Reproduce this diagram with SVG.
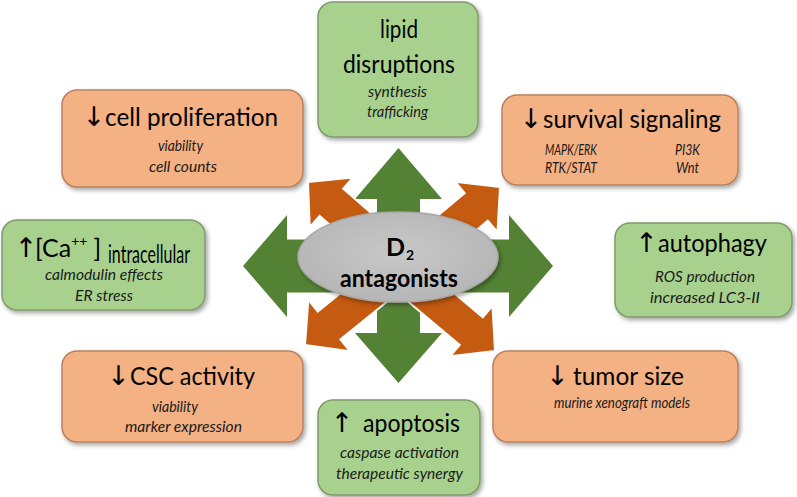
<svg xmlns="http://www.w3.org/2000/svg" width="797" height="497" viewBox="0 0 797 497">
<defs>
<filter id="sh" x="-10%" y="-10%" width="125%" height="130%">
<feDropShadow dx="2" dy="2.5" stdDeviation="2" flood-color="#000" flood-opacity="0.35"/>
</filter>
<radialGradient id="eg" cx="50%" cy="45%" r="60%">
<stop offset="0" stop-color="#c8c8c8"/>
<stop offset="1" stop-color="#b4b4b4"/>
</radialGradient>
</defs>
<style>
.og{fill:#f4b183;stroke:#b88260;stroke-width:1.5}
.gr{fill:#a9d18e;stroke:#7f9b6c;stroke-width:1.5}
.t{font-family:Lato,"Open Sans",sans-serif;font-size:25px;fill:#000}
.s{font-family:Lato,"Open Sans",sans-serif;font-size:14.5px;font-style:italic;fill:#1a1a1a}
.ar{font-family:"DejaVu Sans",sans-serif;font-size:27px;fill:#000;text-anchor:middle}
.b{font-family:Lato,"Open Sans",sans-serif;font-weight:bold;fill:#000}
.ga{fill:#548235}
.oa{fill:#c55a11;stroke:#fff;stroke-width:2;stroke-linejoin:miter}
</style>

<g id="connectors">
<polygon class="ga" points="398.5,148 442,199 420,199 420,333 442,333 398.5,383 355,333 377,333 377,199 355,199"/>
<polygon class="ga" points="243,266 287,215 287,239.5 509,239.5 509,215 553,266 509,317 509,292.5 287,292.5 287,317"/>
<polygon class="oa" transform="translate(308,182) rotate(-139)" points="0,0 -31,-33 -31,-18 -120,-18 -120,18 -31,18 -31,33"/>
<polygon class="oa" transform="translate(500,187) rotate(-40)" points="0,0 -31,-33 -31,-18 -120,-18 -120,18 -31,18 -31,33"/>
<polygon class="oa" transform="translate(305,345) rotate(141)" points="0,0 -31,-33 -31,-18 -120,-18 -120,18 -31,18 -31,33"/>
<polygon class="oa" transform="translate(495,351) rotate(40)" points="0,0 -31,-33 -31,-18 -120,-18 -120,18 -31,18 -31,33"/>
</g>

<g id="center">
<ellipse cx="398" cy="257" rx="100" ry="45" fill="url(#eg)" stroke="#a8a8a8" stroke-width="1.5" filter="url(#sh)"/>
<text class="b" x="386" y="256" font-size="25">D<tspan font-size="14" dx="1" dy="4">2</tspan></text>
<text class="b" x="340" y="287" font-size="24" textLength="118" lengthAdjust="spacingAndGlyphs">antagonists</text>
</g>

<g id="lipid">
<rect class="gr" x="318" y="2" width="160" height="135" rx="15" filter="url(#sh)"/>
<text class="t" x="380" y="38" textLength="38" lengthAdjust="spacingAndGlyphs">lipid</text>
<text class="t" x="343" y="73" textLength="112" lengthAdjust="spacingAndGlyphs">disruptions</text>
<text class="s" x="368" y="97" textLength="59" lengthAdjust="spacingAndGlyphs">synthesis</text>
<text class="s" x="367" y="117" textLength="61" lengthAdjust="spacingAndGlyphs">trafficking</text>
</g>

<g id="proliferation">
<rect class="og" x="62" y="90" width="241" height="97" rx="15" filter="url(#sh)"/>
<text class="ar" x="94" y="126">↓</text>
<text class="t" x="105" y="126" textLength="173" lengthAdjust="spacingAndGlyphs">cell proliferation</text>
<text class="s" x="158" y="151" textLength="45" lengthAdjust="spacingAndGlyphs">viability</text>
<text class="s" x="149" y="172" textLength="68" lengthAdjust="spacingAndGlyphs">cell counts</text>
</g>

<g id="survival">
<rect class="og" x="502" y="95" width="236" height="90" rx="15" filter="url(#sh)"/>
<text class="ar" x="531" y="128">↓</text>
<text class="t" x="543" y="128" textLength="178" lengthAdjust="spacingAndGlyphs">survival signaling</text>
<text class="s" x="545" y="155" textLength="52" lengthAdjust="spacingAndGlyphs">MAPK/ERK</text>
<text class="s" x="545" y="173" textLength="52" lengthAdjust="spacingAndGlyphs">RTK/STAT</text>
<text class="s" x="675" y="155" textLength="25" lengthAdjust="spacingAndGlyphs">PI3K</text>
<text class="s" x="676" y="173" textLength="23" lengthAdjust="spacingAndGlyphs">Wnt</text>
</g>

<g id="calcium">
<rect class="gr" x="2" y="220" width="203" height="90" rx="15" filter="url(#sh)"/>
<text class="ar" x="26" y="257">↑</text>
<text class="t" x="35" y="257">[Ca<tspan font-size="14" dy="-11">++</tspan><tspan dx="6" dy="11">]</tspan></text>
<text class="t" x="108" y="263" font-size="18" textLength="82" lengthAdjust="spacingAndGlyphs">intracellular</text>
<text class="s" x="45" y="280" textLength="118" lengthAdjust="spacingAndGlyphs">calmodulin effects</text>
<text class="s" x="75" y="301" textLength="58" lengthAdjust="spacingAndGlyphs">ER stress</text>
</g>

<g id="autophagy">
<rect class="gr" x="615" y="223" width="177" height="94" rx="15" filter="url(#sh)"/>
<text class="ar" x="646.5" y="252">↑</text>
<text class="t" x="658" y="252" textLength="109" lengthAdjust="spacingAndGlyphs">autophagy</text>
<text class="s" x="655" y="282" textLength="100" lengthAdjust="spacingAndGlyphs">ROS production</text>
<text class="s" x="650" y="303" textLength="110" lengthAdjust="spacingAndGlyphs">increased LC3-II</text>
</g>

<g id="csc">
<rect class="og" x="62" y="351" width="241" height="91" rx="15" filter="url(#sh)"/>
<text class="ar" x="118.5" y="385">↓</text>
<text class="t" x="130" y="385" textLength="125" lengthAdjust="spacingAndGlyphs">CSC activity</text>
<text class="s" x="152" y="412" textLength="46" lengthAdjust="spacingAndGlyphs">viability</text>
<text class="s" x="125" y="432" textLength="117" lengthAdjust="spacingAndGlyphs">marker expression</text>
</g>

<g id="tumor">
<rect class="og" x="493" y="351" width="245" height="91" rx="15" filter="url(#sh)"/>
<text class="ar" x="557.5" y="385">↓</text>
<text class="t" x="573" y="385" textLength="111" lengthAdjust="spacingAndGlyphs">tumor size</text>
<text class="s" x="554" y="408" textLength="136" lengthAdjust="spacingAndGlyphs">murine xenograft models</text>
</g>

<g id="apoptosis">
<rect class="gr" x="318" y="400" width="162" height="95" rx="15" filter="url(#sh)"/>
<text class="ar" x="342" y="432">↑</text>
<text class="t" x="363" y="432" textLength="97" lengthAdjust="spacingAndGlyphs">apoptosis</text>
<text class="s" x="340" y="458" textLength="119" lengthAdjust="spacingAndGlyphs">caspase activation</text>
<text class="s" x="336" y="479" textLength="127" lengthAdjust="spacingAndGlyphs">therapeutic synergy</text>
</g>
</svg>
